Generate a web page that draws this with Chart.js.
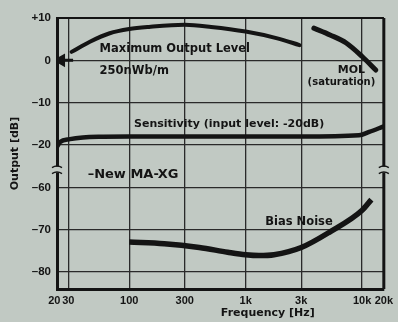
<!DOCTYPE html>
<html>
<head>
<meta charset="utf-8">
<script src="https://cdn.jsdelivr.net/npm/chart.js@4.4.0/dist/chart.umd.min.js"></script>
<style>
  html, body { margin: 0; padding: 0; background: #c1c9c3; }
  #wrap { width: 398px; height: 322px; position: relative; }
</style>
</head>
<body>
<div id="wrap"><canvas id="chart"></canvas></div>
<script>
// Tape response chart — MOL, saturation, sensitivity, bias noise (New MA-XG)

// === X axis (frequency, log). The drawn edges carry the labels 20 and 20k ===
const X_MIN = 24;
const X_MAX = 15350;
const X_TICKS = [24, 30, 100, 300, 1000, 3000, 10000, 15350];
const X_LABELS = ["20\u2002", "30", "100", "300", "1k", "3k", "10k", "20k"];

// === Y axis (dB), broken between -20 and -60 ===
const BREAK_DB = -25;      // values below this are on the lower part
const BREAK_SHIFT = 30;    // -60 is drawn where -30 would be
const Y_MIN = -54;
const Y_MAX = 10;
const Y_TICKS = [10, 0, -10, -20, -60, -70, -80];
const Y_LABELS = ["+10", "0", "\u201310", "\u201320", "\u201360", "\u201370", "\u201380"];

// === Series ===
const MOL_FREQ = [32, 46, 68, 100, 148, 300, 505, 1000, 1870, 2900];
const MOL_DB   = [2.0, 4.4, 6.4, 7.4, 7.9, 8.4, 7.9, 6.8, 5.2, 3.6];

const SAT_FREQ = [3850, 5300, 7300, 10000, 13100];
const SAT_DB   = [7.6, 6.0, 4.1, 0.9, -2.3];

const SENS_FREQ = [24, 25.5, 31, 40, 60, 100, 300, 1000, 3000, 9400, 11500, 15350];
const SENS_DB   = [-20.4, -19.3, -18.6, -18.2, -18.05, -18.0, -18.0, -18.0, -18.0, -17.7, -16.9, -15.6];

const BIAS_FREQ = [100, 200, 400, 700, 1000, 1300, 1750, 3000, 5300, 10000, 12000];
const BIAS_DB   = [-72.9, -73.3, -74.2, -75.3, -75.9, -76.1, -75.9, -74.2, -70.5, -65.4, -62.9];

// reference level arrow (0 dB = 250nWb/m)
const REF_FREQ = [26, 33];
const REF_DB   = [0, 0];

// === Text on the plot ===
const NOTE_TEXT = ["Maximum Output Level", "250nWb/m", "MOL", "(saturation)",
                   "Sensitivity (input level: -20dB)", "\u2013New MA-XG", "Bias Noise"];
const NOTE_FREQ = [55.7, 55.7, 8080, 6640, 110, 44, 1474];
const NOTE_DB   = [2.7, -2.5, -2.3, -5.1, -15.1, -57.1, -68.2];
const NOTE_ALIGN = ["left", "left", "center", "center", "left", "left", "left"];
const NOTE_FONT = ["bold 11.5px 'DejaVu Sans'", "bold 11.5px 'DejaVu Sans'", "bold 11px 'DejaVu Sans'",
                   "bold 10px 'DejaVu Sans'", "bold 11px 'DejaVu Sans'", "bold 13px 'DejaVu Sans'",
                   "bold 11.5px 'DejaVu Sans'"];

const INK = "#141414";
const PAPER = "#c1c9c3";

function toAxis(db) {
  return db < BREAK_DB ? db + BREAK_SHIFT : db;
}
function points(freqs, dbs) {
  return freqs.map((f, i) => ({ x: f, y: toAxis(dbs[i]) }));
}

function curve(data, width, extra) {
  return Object.assign({
    data,
    borderColor: INK,
    borderWidth: width,
    pointRadius: 0,
    fill: false,
    tension: 0.4,
    cubicInterpolationMode: "monotone"
  }, extra || {});
}

// === Plugin: frame, break marks, axis titles, notes ===
const decorations = {
  id: "decorations",
  afterDatasetsDraw(chart) {
    const ctx = chart.ctx;
    const a = chart.chartArea;
    const xs = chart.scales.x;
    const ys = chart.scales.y;
    ctx.save();

    // right and top frame
    ctx.strokeStyle = INK;
    ctx.lineWidth = 3;
    ctx.beginPath();
    ctx.moveTo(a.right, a.top);
    ctx.lineTo(a.right, a.bottom);
    ctx.stroke();
    ctx.lineWidth = 2;
    ctx.beginPath();
    ctx.moveTo(a.left, a.top);
    ctx.lineTo(a.right, a.top);
    ctx.stroke();

    // axis break marks
    const yb = ys.getPixelForValue(toAxis(BREAK_DB) - 0.8);
    [a.left, a.right].forEach((xb) => {
      ctx.fillStyle = PAPER;
      ctx.fillRect(xb - 3, yb - 3, 6, 6);
      ctx.strokeStyle = INK;
      ctx.lineWidth = 1.5;
      [-3, 3].forEach((d) => {
        ctx.beginPath();
        ctx.moveTo(xb - 5, yb + d + 1);
        ctx.quadraticCurveTo(xb, yb + d - 2, xb + 5, yb + d + 1);
        ctx.stroke();
      });
    });

    // notes
    ctx.fillStyle = INK;
    ctx.textBaseline = "middle";
    NOTE_TEXT.forEach((t, i) => {
      ctx.font = NOTE_FONT[i];
      ctx.textAlign = NOTE_ALIGN[i];
      ctx.fillText(t, xs.getPixelForValue(NOTE_FREQ[i]), ys.getPixelForValue(toAxis(NOTE_DB[i])));
    });

    // axis titles
    ctx.font = "bold 11px 'DejaVu Sans'";
    ctx.textAlign = "center";
    ctx.fillText("Frequency [Hz]", a.left + (a.right - a.left) * 0.645, chart.height - 9);
    ctx.save();
    ctx.translate(15, a.top + (a.bottom - a.top) * 0.5);
    ctx.rotate(-Math.PI / 2);
    ctx.fillText("Output [dB]", 0, 0);
    ctx.restore();

    ctx.restore();
  }
};

new Chart(document.getElementById("chart"), {
  type: "line",
  data: {
    datasets: [
      curve(points(MOL_FREQ, MOL_DB), 4, { borderCapStyle: "round" }),
      curve(points(SAT_FREQ, SAT_DB), 5, { borderCapStyle: "round" }),
      curve(points(SENS_FREQ, SENS_DB), 4.5),
      curve(points(BIAS_FREQ, BIAS_DB), 5.5),
      curve(points(REF_FREQ, REF_DB), 3, {
        tension: 0,
        pointRadius: [5, 0],
        pointStyle: "triangle",
        rotation: -90,
        pointBackgroundColor: INK,
        pointBorderColor: INK
      })
    ]
  },
  options: {
    responsive: true,
    maintainAspectRatio: false,
    animation: false,
    layout: { padding: { top: 18, right: 10, left: 0, bottom: 0 } },
    plugins: { legend: { display: false }, tooltip: { enabled: false } },
    scales: {
      x: {
        type: "logarithmic",
        min: X_MIN,
        max: X_MAX,
        afterBuildTicks: (s) => { s.ticks = X_TICKS.map((v) => ({ value: v })); },
        afterFit: (s) => { s.height = 33; },
        grid: { color: "#2a2a2a", lineWidth: 1.3, drawTicks: false },
        border: { display: true, color: INK, width: 3 },
        ticks: {
          autoSkip: false,
          maxRotation: 0,
          padding: 5,
          color: INK,
          font: { family: "'Liberation Sans'", size: 11, weight: "bold" },
          callback: (v, i) => X_LABELS[i]
        }
      },
      y: {
        type: "linear",
        min: Y_MIN,
        max: Y_MAX,
        afterBuildTicks: (s) => { s.ticks = Y_TICKS.map((v) => ({ value: toAxis(v) })); },
        afterFit: (s) => { s.width = 57; },
        grid: { color: "#2a2a2a", lineWidth: 1.3, drawTicks: false },
        border: { display: true, color: INK, width: 3 },
        ticks: {
          padding: 6,
          color: INK,
          font: { family: "'Liberation Sans'", size: 11.5, weight: "bold" },
          callback: (v, i) => Y_LABELS[i]
        }
      }
    }
  },
  plugins: [decorations]
});
</script>
</body>
</html>
